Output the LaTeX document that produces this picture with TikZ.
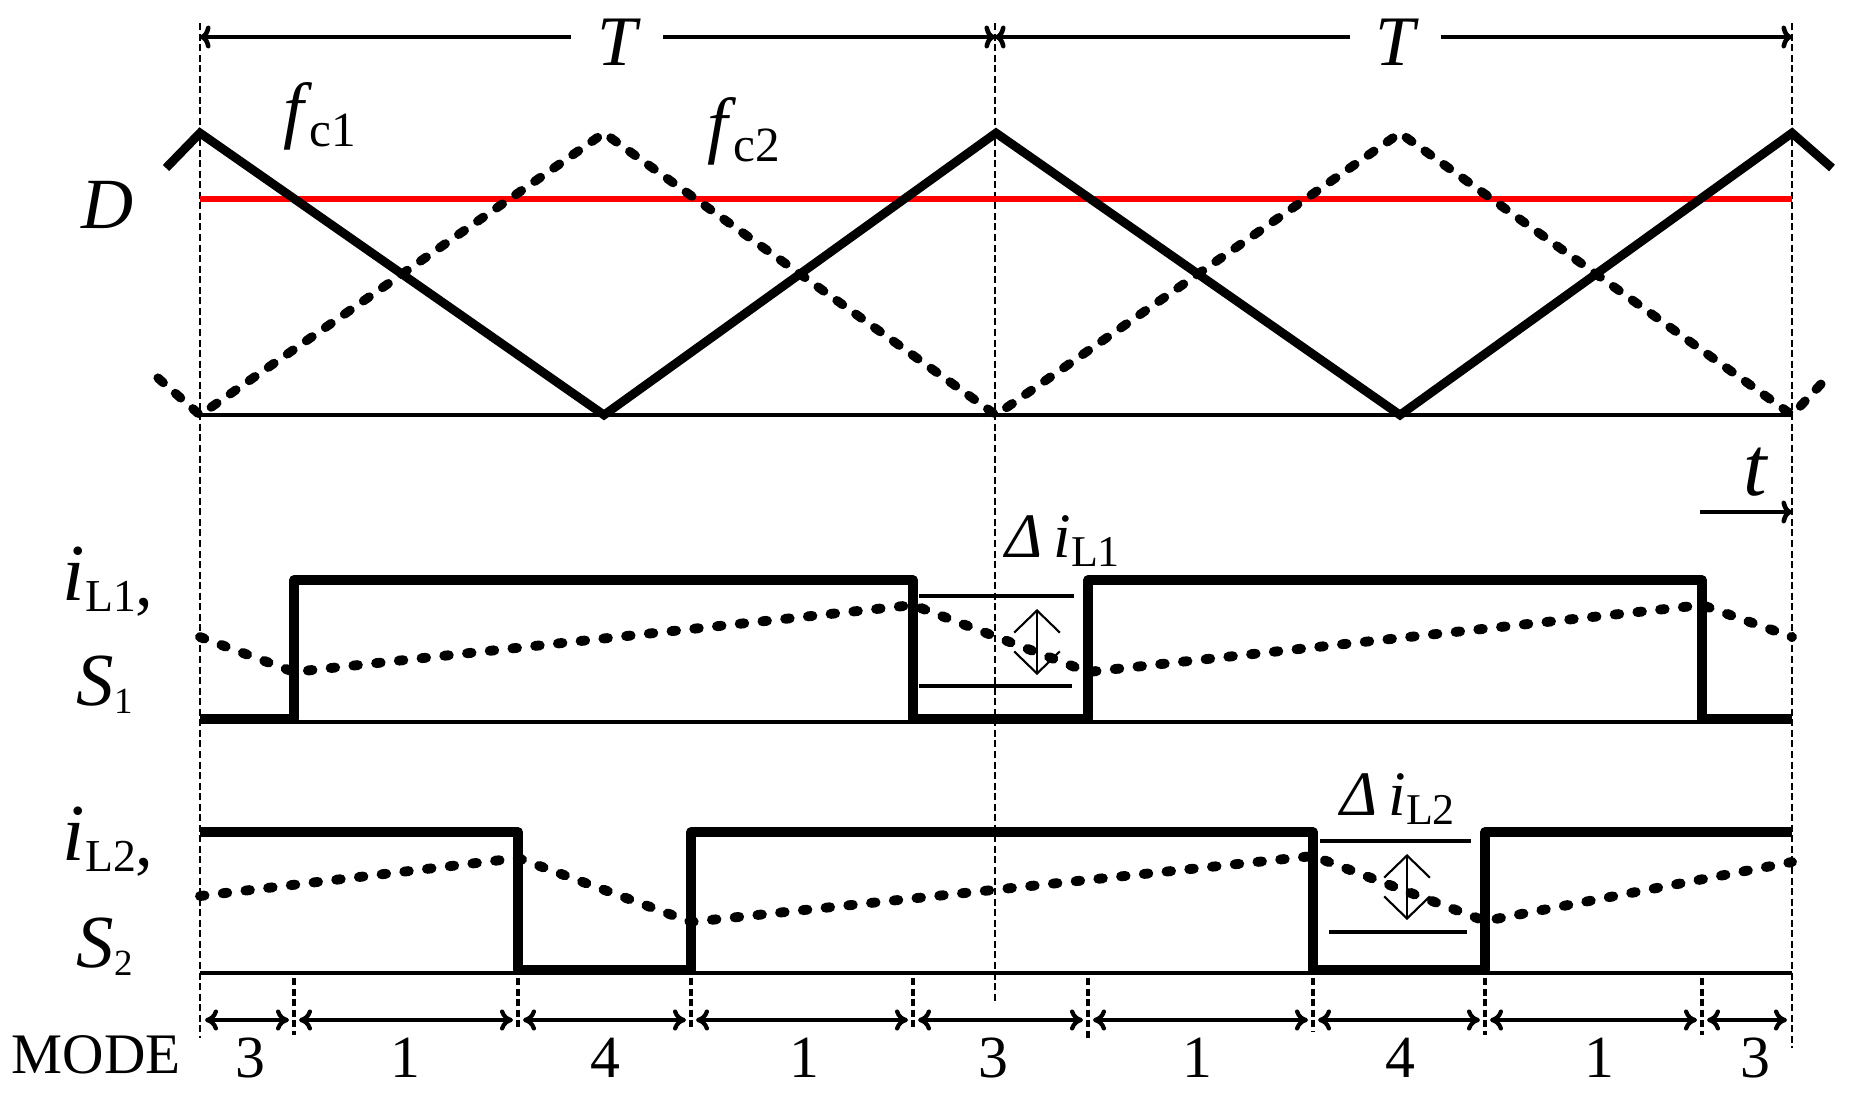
\documentclass[tikz,border=0pt]{standalone}
\usepackage{fontspec}
\setmainfont{Liberation Serif}
\usetikzlibrary{arrows.meta}
\begin{document}
\begin{tikzpicture}[x=0.01cm,y=-0.01cm,
  thickwave/.style={line width=2.7pt, line join=round},
  carrier/.style={line width=2.5pt, line join=miter},
  carrierdash/.style={line width=2.6pt, line cap=round, line join=round, dash pattern=on 2pt off 4.6pt},
  current/.style={line width=2.8pt, line cap=round, dash pattern=on 1.3pt off 5.2pt},
  axisline/.style={line width=1.3pt},
  guide/.style={line width=0.7pt, dash pattern=on 2pt off 1pt},
  modeguide/.style={line width=0.9pt, dash pattern=on 2pt off 1pt},
  tarrow/.style={line width=1.3pt, -{Computer Modern Rightarrow[length=3pt,width=6.5pt]}},
  modearrow/.style={line width=1.2pt, {Computer Modern Rightarrow[length=3.7pt,width=6pt]}-{Computer Modern Rightarrow[length=3.7pt,width=6pt]}},
  deltaline/.style={line width=0.9pt},
  deltaarrow/.style={line width=0.6pt, {Straight Barb[length=6.3pt,width=13pt]}-{Straight Barb[length=6.3pt,width=13pt]}},
  txt/.style={inner sep=0pt, anchor=base},
  txtw/.style={inner sep=0pt, anchor=base west},
]
\useasboundingbox (0,0) rectangle (1858,1109);

% vertical guides
\draw[guide] (200,23) -- (200,1038);
\draw[guide] (995,23) -- (995,1003);
\draw[guide] (1792,23) -- (1792,1048);
\foreach \x/\b in {294/1035,518/1028,691/1030,913/1030,1088/1038,1313/1032,1485/1035,1702/1035}
  \draw[modeguide] (\x,978) -- (\x,\b);

% period T
\node[txt, font=\fontsize{20.2}{20.2}\selectfont\itshape] (T1) at (617,65) {T};
\node[txt, font=\fontsize{20.2}{20.2}\selectfont\itshape] (T2) at (1395,65) {T};
\coordinate (p0) at (200,37);
\coordinate (p1) at (995,37);
\coordinate (p2) at (1792,37);
\draw[tarrow] (571,37) -- (p0);
\draw[tarrow] (663,37) -- (p1);
\draw[tarrow] (1350,37) -- (p1);
\draw[tarrow] (1441,37) -- (p2);

% carriers and duty
\draw[red, line width=1.9pt] (200,199) -- (1792,199);
\draw[axisline] (200,415) -- (1792,415);
\draw[carrier] (166,168) -- (200,133) -- (604,415) -- (996,133) -- (1400,415) -- (1792,133) -- (1832,168);
\draw[carrierdash] (158,378) -- (200,415) -- (604,133) -- (996,415) -- (1400,133) -- (1792,415) -- (1822,383);

\node[txt, font=\fontsize{20.5}{20.5}\selectfont\itshape] (D) at (108,228) {D};
\node[txtw] (fc1) at (283,134) {\fontsize{21}{21}\selectfont\itshape f\kern1.5pt\upshape\raisebox{-3.5pt}{\fontsize{14}{14}\selectfont c1}};
\node[txtw] (fc2) at (707,149) {\fontsize{21}{21}\selectfont\itshape f\kern1.5pt\upshape\raisebox{-3.5pt}{\fontsize{14}{14}\selectfont c2}};

% time axis
\node[txt, font=\fontsize{24}{24}\selectfont\itshape] (t) at (1755,495) {t};
\coordinate (ta) at (1700,512);
\coordinate (tb) at (1792,512);
\draw[tarrow] (ta) -- (tb);

% S1 / iL1
\draw[axisline] (200,722) -- (1792,722);
\draw[thickwave] (200,719) -- (294,719) -- (294,580) -- (913,580) -- (913,719) -- (1088,719) -- (1088,580) -- (1702,580) -- (1702,719) -- (1792,719);
\draw[current] (200,637) -- (294,672) -- (913,605) -- (1088,672) -- (1702,605) -- (1792,637);
\draw[deltaline] (919,596) -- (1074,596);
\draw[deltaline] (919,686) -- (1072,686);
\draw[deltaarrow] (1037,609) -- (1037,675);
\node[txtw] (diL1) at (1005,557) {\fontsize{18}{18}\selectfont\itshape Δ\kern3pt i\upshape\raisebox{-2.8pt}{\fontsize{12.5}{12.5}\selectfont L1}};

\node[txtw] (iL1) at (62,600) {\fontsize{23}{23}\selectfont\itshape i\upshape\raisebox{-3.4pt}{\fontsize{13}{13}\selectfont L1}\raisebox{-1.5pt}{\fontsize{20}{20}\selectfont,}};
\node[txtw] (S1) at (76,705) {\fontsize{21.3}{21.3}\selectfont\itshape S\upshape\raisebox{-2.3pt}{\fontsize{10.5}{10.5}\selectfont 1}};

% S2 / iL2
\draw[axisline] (200,973) -- (1792,973);
\draw[thickwave] (200,832) -- (518,832) -- (518,970) -- (691,970) -- (691,832) -- (1313,832) -- (1313,970) -- (1485,970) -- (1485,832) -- (1792,832);
\draw[current] (200,896) -- (518,858) -- (691,922) -- (1313,856) -- (1485,921) -- (1792,862);
\draw[deltaline] (1320,841) -- (1471,841);
\draw[deltaline] (1329,932) -- (1467,932);
\draw[deltaarrow] (1407,854) -- (1407,920);
\node[txtw] (diL2) at (1340,815) {\fontsize{18}{18}\selectfont\itshape Δ\kern3pt i\upshape\raisebox{-2.6pt}{\fontsize{12.5}{12.5}\selectfont L2}};

\node[txtw] (iL2) at (62,860) {\fontsize{23}{23}\selectfont\itshape i\upshape\raisebox{-3.4pt}{\fontsize{13}{13}\selectfont L2}\raisebox{-1.5pt}{\fontsize{20}{20}\selectfont,}};
\node[txtw] (S2) at (76,967) {\fontsize{21.3}{21.3}\selectfont\itshape S\upshape\raisebox{-2.3pt}{\fontsize{10.5}{10.5}\selectfont 2}};

% modes
\foreach \a/\b in {200/294,294/518,518/691,691/913,913/1088,1088/1313,1313/1485,1485/1702,1702/1792}
  \draw[modearrow] ({\a+5},1020) -- ({\b-5},1020);
\node[txtw, font=\fontsize{16.3}{16.3}\selectfont] (mode) at (11,1073) {MODE};
\foreach \x/\m/\n in {250/3/m1,405/1/m2,605/4/m3,804/1/m4,993/3/m5,1197/1/m6,1400/4/m7,1599/1/m8,1755/3/m9}
  \node[txt, font=\fontsize{17}{17}\selectfont] (\n) at (\x,1077) {\m};
\end{tikzpicture}
\end{document}
